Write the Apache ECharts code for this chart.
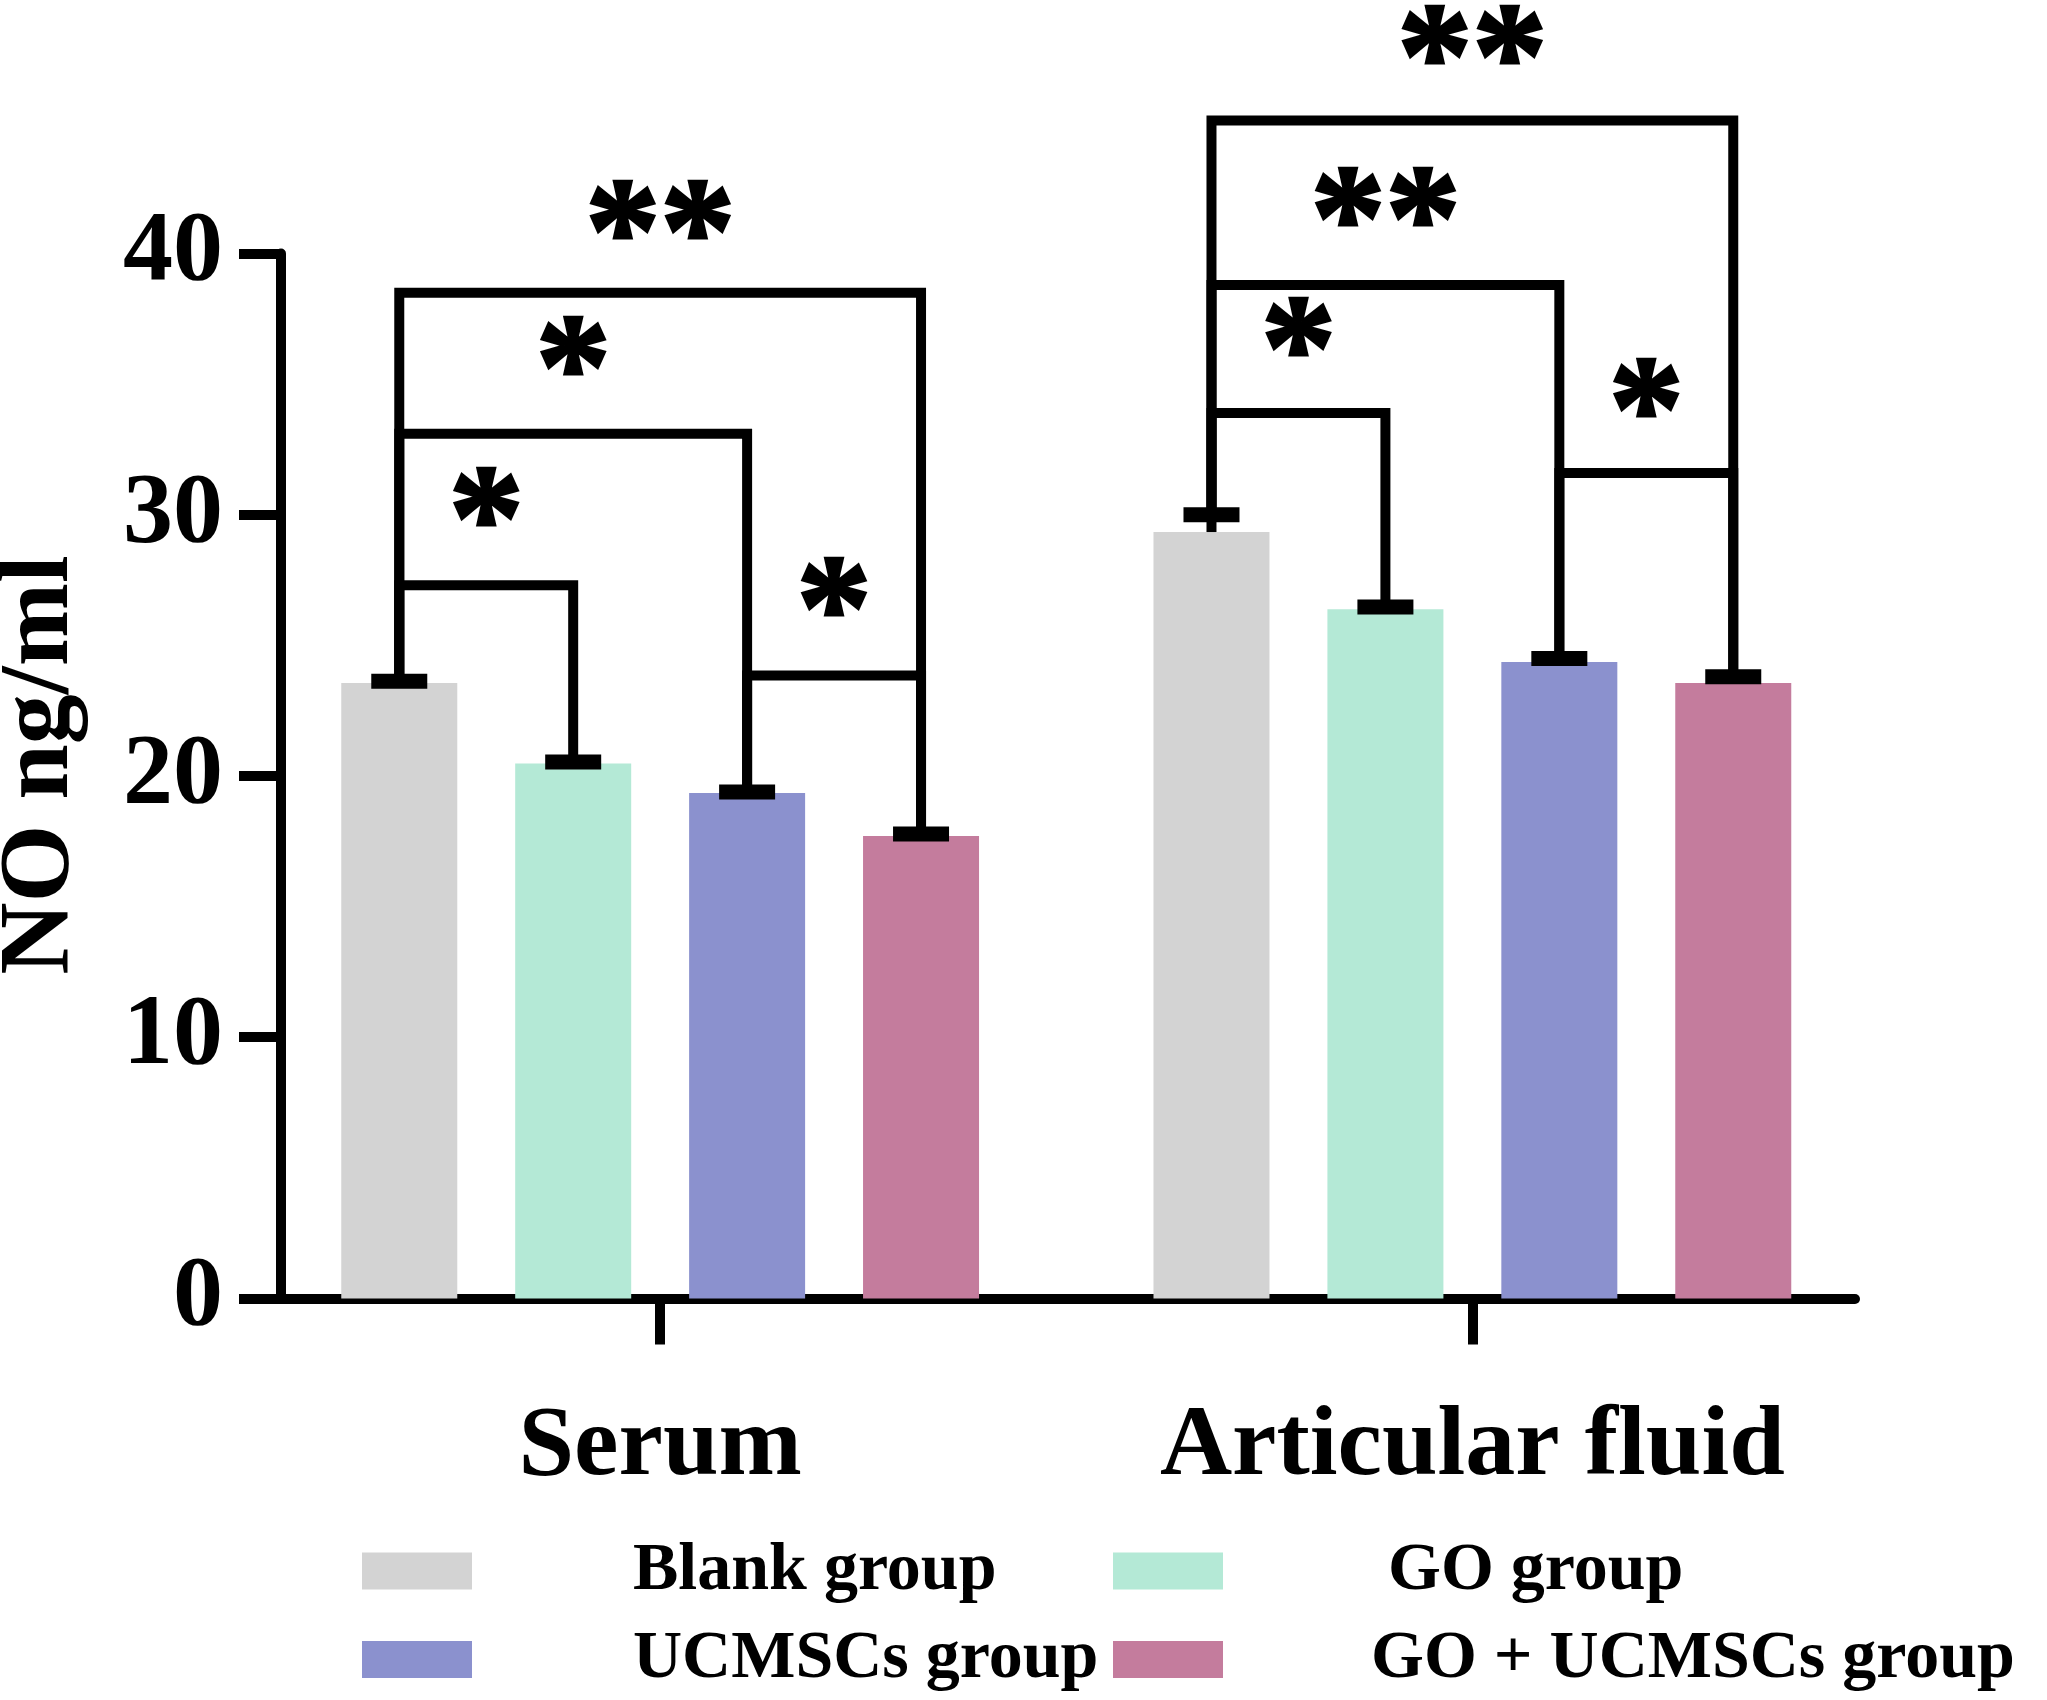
<!DOCTYPE html>
<html lang="en">
  <head>
    <meta charset="UTF-8" />
    <title>NO ng/ml</title>
    <script src="https://cdn.jsdelivr.net/npm/echarts@6/dist/echarts.min.js"></script>
  </head>
  <style>
    html, body { margin: 0; padding: 0; background: #fff; }
  </style>
  <body>
    <div id="box" style="width: 2047px; height: 1700px"></div>
  </body>
  <script>
    // 数据
    var categories = ["Serum", "Articular fluid"];
    var groupNames = ["Blank group", "GO group", "UCMSCs group", "GO + UCMSCs group"];
    var blankMean = [23.56, 29.34];
    var goMean = [20.48, 26.38];
    var ucMean = [19.35, 24.36];
    var goUcMean = [17.7, 23.56];
    var blankErr = [0.07, 0.66];
    var goErr = [0.06, 0.09];
    var ucErr = [0.04, 0.14];
    var goUcErr = [0.08, 0.24];
    // 显著性标注: [分类, 左柱, 右柱, 横线高度, 星号, 星号高度]
    var brackets = [
      [0, 0, 1, 27.3, "*", 30.7],
      [0, 0, 2, 33.1, "*", 36.5],
      [0, 0, 3, 38.5, "**", 41.7],
      [0, 2, 3, 23.85, "*", 27.25],
      [1, 0, 1, 33.9, "*", 37.2],
      [1, 0, 2, 38.8, "**", 42.2],
      [1, 0, 3, 45.1, "**", 48.4],
      [1, 2, 3, 31.6, "*", 34.9],
    ];
    var yTicks = [0, 10, 20, 30, 40];

    var means = [blankMean, goMean, ucMean, goUcMean];
    var errs = [blankErr, goErr, ucErr, goUcErr];
    var colors = ["#D3D3D3", "#B4E9D6", "#8B91CE", "#C47C9D"];

    // 布局: 每根柱子占 1 个单位
    var groupStart = [0.68, 5.35];
    var xMax = 9.05;
    function xPos(cat, k) {
      return groupStart[cat] + k;
    }
    var groupCenters = groupStart.map(function (s) {
      return s + 1.5;
    });

    var font = '"Liberation Serif", "Times New Roman", serif';

    var series = [];
    groupNames.forEach(function (name, k) {
      series.push({
        name: name,
        type: "bar",
        barWidth: 116,
        barGap: "-100%",
        itemStyle: { color: colors[k] },
        data: categories.map(function (c, i) {
          return [xPos(i, k), means[k][i]];
        }),
      });
    });

    // 误差线
    var errData = [];
    categories.forEach(function (c, i) {
      for (var k = 0; k < 4; k++) {
        errData.push([xPos(i, k), means[k][i], errs[k][i]]);
      }
    });
    series.push({
      type: "custom",
      clip: false,
      encode: { x: 0, y: 1 },
      data: errData,
      z: 5,
      renderItem: function (params, api) {
        var x = api.value(0), m = api.value(1), e = api.value(2);
        var b = api.coord([x, m]);
        var t = api.coord([x, m + e]);
        return {
          type: "group",
          children: [
            { type: "line", shape: { x1: b[0], y1: b[1], x2: t[0], y2: t[1] }, style: { stroke: "#000", lineWidth: 10 } },
            { type: "rect", shape: { x: t[0] - 28, y: t[1] - 7.5, width: 56, height: 15 }, style: { fill: "#000" } },
          ],
        };
      },
    });

    // 括号线
    var starData = [];
    brackets.forEach(function (b) {
      var cat = b[0], i = b[1], j = b[2], lvl = b[3];
      var xi = xPos(cat, i), xj = xPos(cat, j);
      var ci = means[i][cat] + errs[i][cat];
      var cj = means[j][cat] + errs[j][cat];
      series.push({
        type: "line",
        clip: false,
        symbol: "none",
        silent: true,
        z: 4,
        lineStyle: { color: "#000", width: 10, join: "miter", cap: "butt" },
        data: [[xi, ci], [xi, lvl], [xj, lvl], [xj, cj]],
      });
      starData.push([(xi + xj) / 2, b[5], b[4]]);
    });
    // 星号
    series.push({
      type: "custom",
      clip: false,
      silent: true,
      encode: { x: 0, y: 1 },
      dimensions: ["x", "y", { name: "txt", type: "ordinal" }],
      data: starData,
      z: 6,
      renderItem: function (params, api) {
        var p = api.coord([api.value(0), api.value(1)]);
        return {
          type: "text",
          x: p[0],
          y: p[1] + 33,
          style: {
            text: starData[params.dataIndex][2],
            fill: "#000",
            stroke: "#000",
            lineWidth: 3,
            font: "bold 150px " + font,
            align: "center",
            verticalAlign: "middle",
          },
        };
      },
    });

    var legendText = { fontFamily: font, fontWeight: "bold", fontSize: 68, lineHeight: 67, color: "#000" };

    var myChart = echarts.init(document.getElementById("box"));
    var option = {
      animation: false,
      backgroundColor: "#fff",
      grid: { left: 281, top: 253.6, right: 192, bottom: 401.6, containLabel: false, outerBoundsMode: "none" },
      legend: [
        {
          orient: "vertical",
          left: 362,
          top: 1537,
          padding: 0,
          itemWidth: 110,
          itemHeight: 37,
          itemGap: 20.5,
          icon: "rect",
          selectedMode: false,
          data: [
            { name: groupNames[0], textStyle: { padding: [0, 0, 0, 156] } },
            { name: groupNames[2], textStyle: { padding: [0, 0, 0, 156] } },
          ],
          textStyle: legendText,
        },
        {
          orient: "vertical",
          left: 1113,
          top: 1537,
          padding: 0,
          itemWidth: 110,
          itemHeight: 37,
          itemGap: 20.5,
          icon: "rect",
          selectedMode: false,
          data: [
            { name: groupNames[1], textStyle: { padding: [0, 0, 0, 160] } },
            { name: groupNames[3], textStyle: { padding: [0, 0, 0, 143] } },
          ],
          textStyle: legendText,
        },
      ],
      xAxis: {
        type: "value",
        min: 0,
        max: xMax,
        splitLine: { show: false },
        axisLine: { show: true, lineStyle: { color: "#000", width: 10 } },
        axisTick: { show: true, customValues: groupCenters, length: 46, lineStyle: { color: "#000", width: 10 } },
        axisLabel: {
          customValues: groupCenters,
          margin: 100,
          fontFamily: font,
          fontWeight: "bold",
          fontSize: 100,
          color: "#000",
          formatter: function (v) {
            var idx = 0;
            groupCenters.forEach(function (c, i) {
              if (Math.abs(c - v) < Math.abs(groupCenters[idx] - v)) idx = i;
            });
            return categories[idx];
          },
        },
      },
      yAxis: {
        type: "value",
        min: yTicks[0],
        max: yTicks[yTicks.length - 1],
        interval: 10,
        name: "NO ng/ml",
        nameLocation: "middle",
        nameGap: 190,
        nameTextStyle: { fontFamily: font, fontWeight: "bold", fontSize: 100, color: "#000", padding: [0, 0, 0, 22] },
        splitLine: { show: false },
        axisLine: { show: true, lineStyle: { color: "#000", width: 10 } },
        axisTick: { show: true, length: 42, lineStyle: { color: "#000", width: 10 } },
        axisLabel: { margin: 58, fontFamily: font, fontWeight: "bold", fontSize: 100, color: "#000" },
      },
      series: series,
    };
    myChart.setOption(option);
  </script>
</html>
